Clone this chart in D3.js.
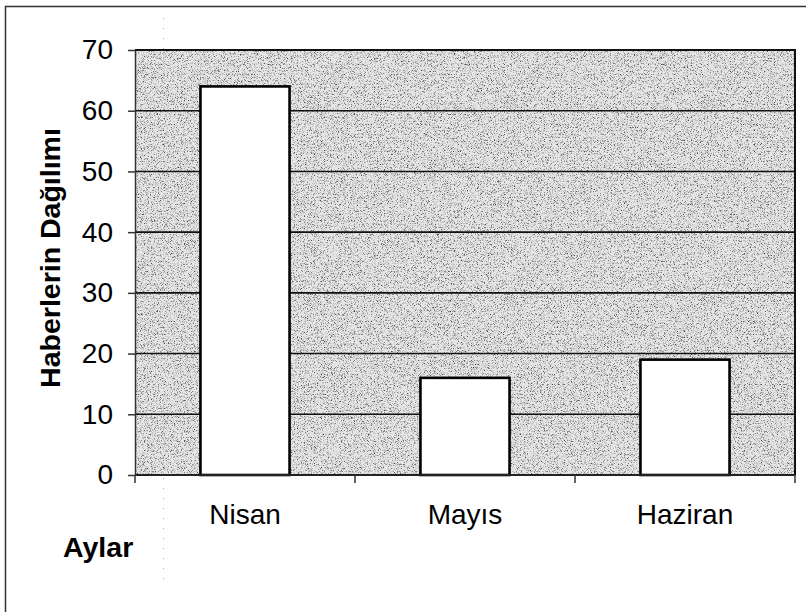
<!DOCTYPE html>
<html>
<head>
<meta charset="utf-8">
<script src="https://cdn.jsdelivr.net/npm/d3@7"></script>
<style>
  html, body { margin: 0; padding: 0; background: #fff; }
  svg { display: block; font-family: "Liberation Sans", Arial, sans-serif; }
</style>
</head>
<body>
<svg id="chart" width="806" height="612"></svg>
<script>
const categories = ["Nisan", "Mayıs", "Haziran"];
const values = [64, 16, 19];
const yTicks = [0, 10, 20, 30, 40, 50, 60, 70];
const yTitle = "Haberlerin Dağılımı";
const xTitle = "Aylar";

const svg = d3.select("#chart");
const m = { left: 135, top: 50, right: 795, bottom: 475 };

const defs = svg.append("defs");
const f = defs.append("filter").attr("id", "stipple")
  .attr("x", 0).attr("y", 0).attr("width", "100%").attr("height", "100%");
f.append("feTurbulence").attr("type", "fractalNoise").attr("baseFrequency", 1.3)
  .attr("numOctaves", 1).attr("seed", 7).attr("result", "n");
f.append("feColorMatrix").attr("in", "n").attr("type", "matrix")
  .attr("values", "0 0 0 0 0  0 0 0 0 0  0 0 0 0 0  1.6 0 0 0 -0.3").attr("result", "a");
const ct = f.append("feComponentTransfer").attr("in", "a").attr("result", "dots");
ct.append("feFuncA").attr("type", "discrete").attr("tableValues", "0 0 0 0 0.35 0.7 0.9");
const mg = f.append("feMerge");
mg.append("feMergeNode").attr("in", "SourceGraphic");
mg.append("feMergeNode").attr("in", "dots");

// outer frame
svg.append("rect").attr("x", 5.5).attr("y", 6.5).attr("width", 820).attr("height", 620)
  .attr("fill", "none").attr("stroke", "#333").attr("stroke-width", 1.5);

const x = d3.scaleBand().domain(categories).range([m.left, m.right])
  .paddingInner(0.595).paddingOuter(0.2975);
const y = d3.scaleLinear().domain([0, 70]).range([m.bottom, m.top]);

// plot background
svg.append("rect").attr("x", m.left).attr("y", m.top)
  .attr("width", m.right - m.left).attr("height", m.bottom - m.top)
  .attr("fill", "#e4e4e4").attr("filter", "url(#stipple)");

// artifact dotted line
svg.append("line").attr("x1", 163.5).attr("x2", 163.5).attr("y1", 18).attr("y2", 585)
  .attr("stroke", "#aaa").attr("stroke-width", 1).attr("stroke-dasharray", "1,9");

// gridlines
svg.append("g").selectAll("line").data(yTicks.filter(t => t > 0 && t < 70)).join("line")
  .attr("x1", m.left).attr("x2", m.right)
  .attr("y1", d => y(d)).attr("y2", d => y(d))
  .attr("stroke", "#111").attr("stroke-width", 1.6);

// plot border top/right
svg.append("path")
  .attr("d", `M${m.left},${m.top}H${m.right}V${m.bottom}`)
  .attr("fill", "none").attr("stroke", "#111").attr("stroke-width", 2);

// bars
svg.append("g").selectAll("rect").data(values).join("rect")
  .attr("x", (d, i) => x(categories[i]))
  .attr("width", x.bandwidth())
  .attr("y", d => y(d))
  .attr("height", d => y(0) - y(d))
  .attr("fill", "#fff").attr("stroke", "#000").attr("stroke-width", 2.6);

// y axis
const yAxis = d3.axisLeft(y).tickValues(yTicks).tickSize(7).tickPadding(15).tickSizeOuter(0);
const gy = svg.append("g").attr("transform", `translate(${m.left},0)`).call(yAxis);
gy.select(".domain").attr("stroke", "#333").attr("stroke-width", 1.5);
gy.selectAll(".tick line").attr("stroke", "#333").attr("stroke-width", 1.5);
gy.selectAll(".tick text").attr("font-size", 28).attr("fill", "#000")
  .attr("font-family", "'Liberation Sans', Arial, sans-serif");

// x axis line and boundary ticks
const boundaries = [m.left].concat(categories.map(c => x(c) + x.bandwidth() + x.step() * x.paddingInner() / 2));
svg.append("line").attr("x1", m.left).attr("x2", m.right).attr("y1", m.bottom).attr("y2", m.bottom)
  .attr("stroke", "#222").attr("stroke-width", 2);
svg.append("g").selectAll("line").data(boundaries).join("line")
  .attr("x1", d => d).attr("x2", d => d).attr("y1", m.bottom).attr("y2", m.bottom + 8)
  .attr("stroke", "#333").attr("stroke-width", 1.5);

// x labels
svg.append("g").selectAll("text").data(categories).join("text")
  .attr("x", d => x(d) + x.bandwidth() / 2).attr("y", 524)
  .attr("text-anchor", "middle").attr("font-size", 28).attr("fill", "#000")
  .text(d => d);

// titles
svg.append("text").attr("x", 63).attr("y", 557)
  .attr("font-size", 28.5).attr("font-weight", "bold").attr("fill", "#000").text(xTitle);
svg.append("text").attr("transform", "translate(60,258) rotate(-90)")
  .attr("text-anchor", "middle").attr("font-size", 28.5).attr("font-weight", "bold")
  .attr("fill", "#000").text(yTitle);
</script>
</body>
</html>
